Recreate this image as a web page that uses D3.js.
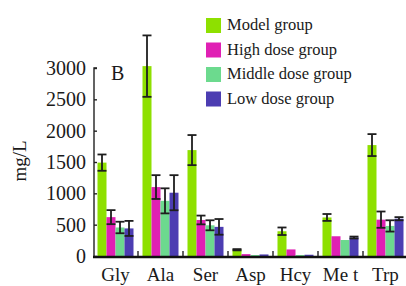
<!DOCTYPE html>
<html>
<head>
<meta charset="utf-8">
<script src="https://cdn.jsdelivr.net/npm/d3@7"></script>
<style>
  body { margin: 0; background: #fff; }
  text { font-family: "Liberation Serif", "Times New Roman", serif; fill: #1a1a1a; }
</style>
</head>
<body>
<svg id="chart" width="406" height="286"></svg>
<script>
// amino acid groups and series
const categories = ["Gly", "Ala", "Ser", "Asp", "Hcy", "Me t", "Trp"];
const seriesNames = ["Model group", "High dose group", "Middle dose group", "Low dose group"];
const seriesColors = ["#8ee000", "#e020b4", "#6cda8e", "#4c3db2"];

const modelVals = [1490, 3030, 1690, 100, 395, 615, 1770];
const modelErr = [130, 490, 240, 10, 60, 55, 175];
const highVals = [620, 1100, 575, 30, 105, 315, 580];
const highErr = [112, 190, 70, 0, 0, 0, 130];
const middleVals = [455, 880, 490, 15, 15, 255, 480];
const middleErr = [92, 200, 80, 0, 0, 0, 90];
const lowVals = [440, 1010, 465, 25, 20, 295, 595];
const lowErr = [120, 280, 125, 0, 0, 15, 25];

const yTicks = [0, 500, 1000, 1500, 2000, 2500, 3000];

const values = [modelVals, highVals, middleVals, lowVals];
const errors = [modelErr, highErr, middleErr, lowErr];

var svg = d3.select("#chart");

var x = d3.scaleBand()
  .domain(categories)
  .range([93, 408])
  .paddingInner(0.2)
  .paddingOuter(0.1);

var xs = d3.scaleBand()
  .domain(d3.range(seriesNames.length))
  .range([0, x.bandwidth()]);

var y = d3.scaleLinear()
  .domain([0, 3000])
  .range([256, 68]);

// bars
var groups = svg.append("g")
  .selectAll("g")
  .data(categories)
  .enter()
  .append("g")
  .attr("transform", (d) => "translate(" + x(d) + ",0)");

groups.selectAll("rect")
  .data((d, i) => values.map((v, s) => ({ s: s, v: v[i], e: errors[s][i] })))
  .enter()
  .append("rect")
  .attr("x", (d) => xs(d.s))
  .attr("width", xs.bandwidth())
  .attr("y", (d) => y(d.v))
  .attr("height", (d) => y(0) - y(d.v))
  .style("fill", (d) => seriesColors[d.s]);

// error bars
var eb = groups.selectAll("g.err")
  .data((d, i) => values.map((v, s) => ({ s: s, v: v[i], e: errors[s][i] })).filter((d) => d.e > 0))
  .enter()
  .append("g")
  .attr("class", "err")
  .style("stroke", "#1e1e1e")
  .style("stroke-width", 1.8);

eb.append("line")
  .attr("x1", (d) => xs(d.s) + xs.bandwidth() / 2)
  .attr("x2", (d) => xs(d.s) + xs.bandwidth() / 2)
  .attr("y1", (d) => y(d.v + d.e))
  .attr("y2", (d) => y(d.v - d.e));

[1, -1].forEach(function (sign) {
  eb.append("line")
    .attr("x1", (d) => xs(d.s) + xs.bandwidth() / 2 - 4.5)
    .attr("x2", (d) => xs(d.s) + xs.bandwidth() / 2 + 4.5)
    .attr("y1", (d) => y(d.v + sign * d.e))
    .attr("y2", (d) => y(d.v + sign * d.e));
});

// y axis
var yAxis = svg.append("g")
  .attr("transform", "translate(94,0)")
  .call(d3.axisRight(y).tickValues(yTicks).tickSize(3).tickFormat(""));
yAxis.select(".domain").attr("d", "M3," + y(3000) + "H0V" + y(0)).style("stroke", "#222").style("stroke-width", 1.4);
yAxis.selectAll(".tick line").style("stroke", "#222").style("stroke-width", 1.4);

svg.append("g")
  .selectAll("text")
  .data(yTicks)
  .enter()
  .append("text")
  .attr("x", 86)
  .attr("y", (d) => y(d) + 7)
  .attr("text-anchor", "end")
  .style("font-size", "20px")
  .text((d) => d);

// x axis
svg.append("line")
  .attr("x1", 93)
  .attr("x2", 406)
  .attr("y1", y(0) + 1)
  .attr("y2", y(0) + 1)
  .style("stroke", "#111")
  .style("stroke-width", 2.4);

svg.append("g")
  .selectAll("line")
  .data(categories.slice(1))
  .enter()
  .append("line")
  .attr("x1", (d) => x(d) - x.step() * 0.1)
  .attr("x2", (d) => x(d) - x.step() * 0.1)
  .attr("y1", y(0))
  .attr("y2", y(0) - 5)
  .style("stroke", "#222")
  .style("stroke-width", 1.4);

svg.append("g")
  .selectAll("text")
  .data(categories)
  .enter()
  .append("text")
  .attr("x", (d) => x(d) + x.bandwidth() / 2)
  .attr("y", 281)
  .attr("text-anchor", "middle")
  .style("font-size", "19px")
  .text((d) => d);

// labels
svg.append("text")
  .attr("transform", "translate(26,161) rotate(-90)")
  .attr("text-anchor", "middle")
  .style("font-size", "19px")
  .text("mg/L");

svg.append("text")
  .attr("x", 111)
  .attr("y", 80)
  .style("font-size", "20px")
  .text("B");

// legend
var legend = svg.append("g")
  .selectAll("g")
  .data(seriesNames)
  .enter()
  .append("g")
  .attr("transform", (d, i) => "translate(206," + (18 + i * 24.5) + ")");

legend.append("rect")
  .attr("width", 15)
  .attr("height", 15)
  .style("fill", (d, i) => seriesColors[i]);

legend.append("text")
  .attr("x", 21)
  .attr("y", 12)
  .style("font-size", "16.5px")
  .text((d) => d);
</script>
</body>
</html>
